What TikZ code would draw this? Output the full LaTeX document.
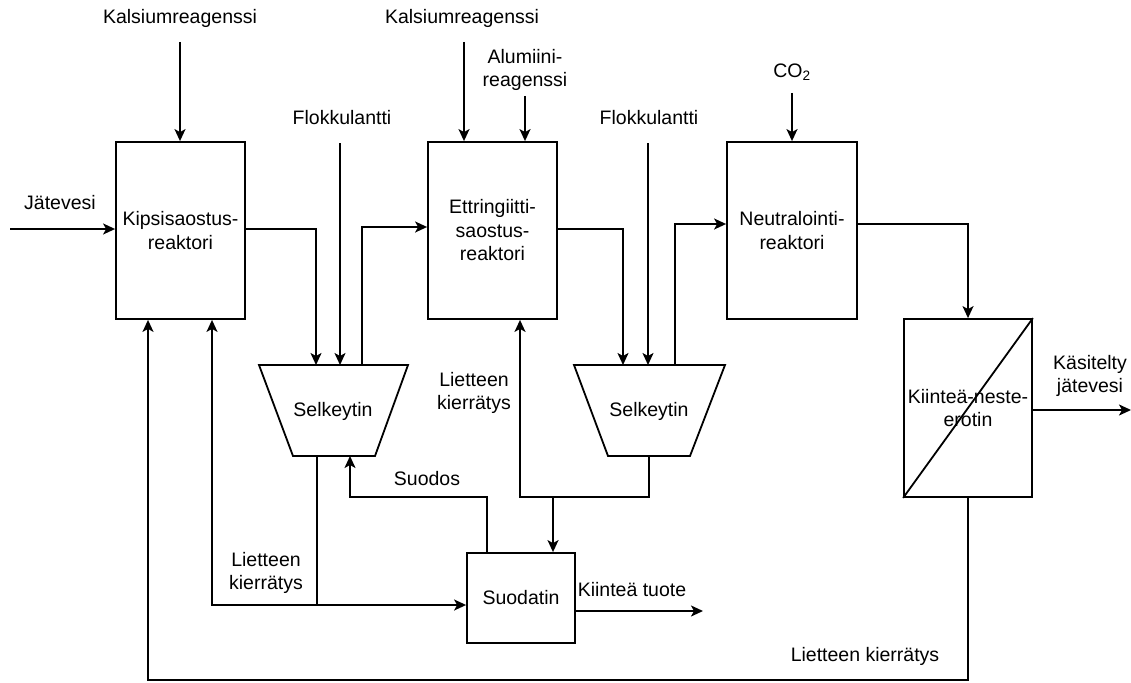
\documentclass[tikz,border=0pt]{standalone}
\usepackage{fontspec}
\setmainfont{Liberation Sans}
\usetikzlibrary{arrows.meta,calc}
\begin{document}
\begin{tikzpicture}[x=1pt,y=-1pt,
  every node/.style={font=\fontsize{19.5}{23.5}\selectfont, align=center, inner sep=0pt},
  box/.style={draw, line width=1.8pt, minimum width=129pt, minimum height=177pt},
  ln/.style={line width=1.8pt},
  arr/.style={line width=1.8pt, -{Stealth[length=12pt,width=11pt,inset=3pt]}},
  lbl/.style={}
]
\useasboundingbox (0,0) rectangle (1131,682);

% boxes
\node[box] (kips) at (180.5,230.5) {Kipsisaostus-\\reaktori};
\node[box] (ettr) at (492.5,230.5) {Ettringiitti-\\saostus-\\reaktori};
\node[box, minimum width=130pt] (neut) at (792,230.5) {Neutralointi-\\reaktori};
\node[box, minimum width=128pt, minimum height=178pt] (erot) at (968,408) {Kiinteä-neste-\\erotin};
\draw[ln] (erot.south west) -- (erot.north east);
\node[box, minimum width=108pt, minimum height=90pt] (suod) at (521,598) {Suodatin};

% clarifiers
\draw[ln, line join=miter] (259,365) -- (408,365) -- (375,456) -- (293,456) -- cycle;
\node (s1) at (333,411) {Selkeytin};
\draw[ln, line join=miter] (574,365) -- (725,365) -- (690,456) -- (608,456) -- cycle;
\node (s2) at (649,411) {Selkeytin};

% labels
\node (jlab) at (60,203) {Jätevesi};
\node (kal1) at (180,18) {Kalsiumreagenssi};
\node (flok1) at (342,118) {Flokkulantti};
\node (kal2) at (462,18) {Kalsiumreagenssi};
\node (alu) at (525,70) {Alumiini-\\reagenssi};
\node (flok2) at (649,118) {Flokkulantti};
\node (co2) at (792,72) {CO\textsubscript{2}};
\node (kas) at (1090,376) {Käsitelty\\jätevesi};
\node (lk1) at (474,393) {Lietteen\\kierrätys};
\node (lk2) at (266,573) {Lietteen\\kierrätys};
\node (lk3) at (865,656) {Lietteen kierrätys};
\node (suodos) at (427,479) {Suodos};
\node (kt) at (632,590) {Kiinteä tuote};

% coordinates
\coordinate (jin) at (10,229);
\coordinate (k1s) at (180,42);
\coordinate (f1s) at (340,143);
\coordinate (f1e) at (340,365);
\coordinate (s1in) at (316,365);
\coordinate (s1out) at (362,365);
\coordinate (k2s) at (464,42);
\coordinate (als) at (525,96);
\coordinate (f2s) at (648,143);
\coordinate (f2e) at (648,365);
\coordinate (s2in) at (623,365);
\coordinate (s2out) at (675,365);
\coordinate (co2s) at (792,93);
\coordinate (kasout) at (1131,410);
\coordinate (s1b) at (317,456);
\coordinate (s1f) at (350,456);
\coordinate (s2b) at (649,456);
\coordinate (j1) at (317,605);
\coordinate (j2) at (649,497);
\coordinate (j3) at (553,497);
\coordinate (ktout) at (703,611);

% inputs
\draw[arr] (jin) -- (jin -| kips.west);
\draw[arr] (k1s) -- (k1s |- kips.north);
\draw[arr] (f1s) -- (f1e);
\draw[arr] (k2s) -- (k2s |- ettr.north);
\draw[arr] (als) -- (als |- ettr.north);
\draw[arr] (f2s) -- (f2e);
\draw[arr] (co2s) -- (co2s |- neut.north);

% main line
\draw[arr] (kips.east |- 0,229) -| (s1in);
\draw[arr] (s1out) |- (ettr.west |- 0,227);
\draw[arr] (ettr.east |- 0,229) -| (s2in);
\draw[arr] (s2out) |- (neut.west |- 0,224);
\draw[arr] (neut.east |- 0,224) -| (erot.north);
\draw[arr] (erot.east |- kasout) -- (kasout);

% recycle from separator
\draw[arr] (erot.south) -- (968,680) -| (148,0 |- kips.south);

% clarifier 1 bottom
\draw[arr] (s1b) -- (j1) -- (j1 -| suod.west);
\draw[arr] (j1) -| (212,0 |- kips.south);

% clarifier 2 bottom
\draw[arr] (s2b) -- (j2) -| (520,0 |- ettr.south);
\draw[arr] (j3) -- (j3 |- suod.north);

% filtrate
\draw[arr] (suod.north -| 487,0) |- (350,497) -- (s1f);

% solid product
\draw[arr] (suod.east |- ktout) -- (ktout);
\end{tikzpicture}
\end{document}
